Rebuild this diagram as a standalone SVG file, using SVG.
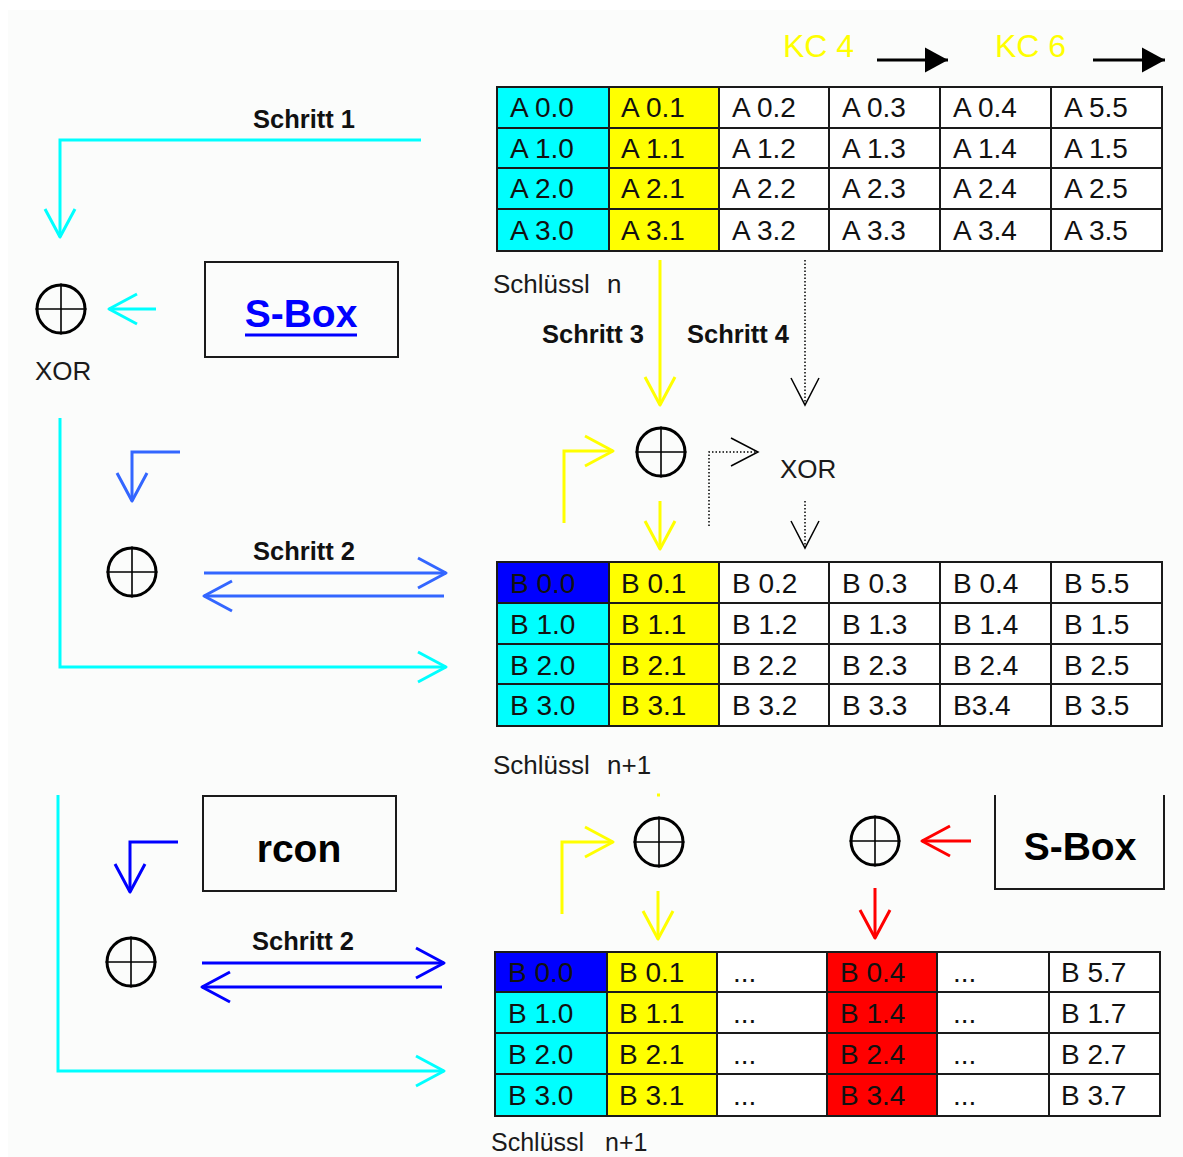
<svg xmlns="http://www.w3.org/2000/svg" width="1183" height="1157" viewBox="0 0 1183 1157">
  <style>
    .lbl { font-family: "Liberation Sans", Arial, sans-serif; fill: #1a1a1a; }
    .step { font-family: "Liberation Sans", Arial, sans-serif; font-weight: bold; font-size: 25.5px; fill: #111; }
    .big { font-family: "Liberation Sans", Arial, sans-serif; font-weight: bold; font-size: 39px; text-anchor: middle; }
    .cell text { font-family: "Liberation Sans", Arial, sans-serif; font-size: 28px; fill: #111; }
    .cell rect { stroke: #1a1a1a; stroke-width: 2; }
    .c { fill: #00ffff; }
    .y { fill: #ffff00; }
    .b { fill: #0000ff; }
    .r { fill: #ff0000; }
    .w { fill: #ffffff; }
    .box { fill: none; stroke: #1a1a1a; stroke-width: 2; }
    .ln { fill: none; stroke-width: 3; }
    .cyan { stroke: #00ffff; }
    .yel { stroke: #ffff00; }
    .blu1 { stroke: #3366ff; }
    .blu2 { stroke: #0000ff; }
    .red { stroke: #ff0000; }
    .dot { fill: none; stroke: #000; stroke-width: 1.5; stroke-dasharray: 1.5 2; }
  </style>
  <defs>
    <marker id="hCyan" markerUnits="userSpaceOnUse" viewBox="-31 -18 34 36" markerWidth="34" markerHeight="36" refX="0" refY="0" orient="auto">
      <path d="M-28,-15 L0,0 L-28,15" fill="none" stroke="#00ffff" stroke-width="3" stroke-linejoin="round"/>
    </marker>
    <marker id="hYel" markerUnits="userSpaceOnUse" viewBox="-31 -18 34 36" markerWidth="34" markerHeight="36" refX="0" refY="0" orient="auto">
      <path d="M-28,-15 L0,0 L-28,15" fill="none" stroke="#ffff00" stroke-width="3" stroke-linejoin="round"/>
    </marker>
    <marker id="hBlu1" markerUnits="userSpaceOnUse" viewBox="-31 -18 34 36" markerWidth="34" markerHeight="36" refX="0" refY="0" orient="auto">
      <path d="M-28,-15 L0,0 L-28,15" fill="none" stroke="#3366ff" stroke-width="3" stroke-linejoin="round"/>
    </marker>
    <marker id="hBlu2" markerUnits="userSpaceOnUse" viewBox="-31 -18 34 36" markerWidth="34" markerHeight="36" refX="0" refY="0" orient="auto">
      <path d="M-28,-15 L0,0 L-28,15" fill="none" stroke="#0000ff" stroke-width="3" stroke-linejoin="round"/>
    </marker>
    <marker id="hRed" markerUnits="userSpaceOnUse" viewBox="-31 -18 34 36" markerWidth="34" markerHeight="36" refX="0" refY="0" orient="auto">
      <path d="M-28,-15 L0,0 L-28,15" fill="none" stroke="#ff0000" stroke-width="3" stroke-linejoin="round"/>
    </marker>
    <marker id="hThin" markerUnits="userSpaceOnUse" viewBox="-31 -18 34 36" markerWidth="34" markerHeight="36" refX="0" refY="0" orient="auto">
      <path d="M-27,-14 L0,0 L-27,14" fill="none" stroke="#000" stroke-width="1.5"/>
    </marker>
    <marker id="hFill" markerUnits="userSpaceOnUse" viewBox="-24 -13 25 26" markerWidth="25" markerHeight="26" refX="0" refY="0" orient="auto">
      <path d="M-23,-12.5 L0,0 L-23,12.5 Z" fill="#000"/>
    </marker>
    <!-- XOR operator: circle with a cross -->
    <g id="xorSym">
      <circle cx="0" cy="0" r="24" fill="none" stroke="#000" stroke-width="3"/>
      <path d="M-25.5,0 H25.5 M0,-25.5 V25.5" fill="none" stroke="#000" stroke-width="1.6"/>
    </g>
  </defs>

  <!-- page -->
  <rect width="1183" height="1157" fill="#ffffff"/>
  <rect x="8" y="10" width="1175" height="1147" fill="#fbfcfb"/>

  <!-- connectors -->
  <g id="connectors">
    <polyline class="ln cyan" points="421,140 60,140 60,237" marker-end="url(#hCyan)"/>
    <line class="ln cyan" x1="156" y1="309" x2="109" y2="309" marker-end="url(#hCyan)"/>
    <polyline class="ln cyan" points="60,418 60,667 446,667" marker-end="url(#hCyan)"/>
    <polyline class="ln blu1" points="180,452 132,452 132,501" marker-end="url(#hBlu1)"/>
    <line class="ln blu1" x1="204" y1="573" x2="446" y2="573" marker-end="url(#hBlu1)"/>
    <line class="ln blu1" x1="444" y1="596" x2="204" y2="596" marker-end="url(#hBlu1)"/>

    <line class="ln yel" x1="660" y1="260" x2="660" y2="405" marker-end="url(#hYel)"/>
    <line class="dot" x1="805" y1="260" x2="805" y2="405" marker-end="url(#hThin)"/>
    <polyline class="ln yel" points="564,523 564,451 613,451" marker-end="url(#hYel)"/>
    <polyline class="dot" points="709,526 709,452 758,452" marker-end="url(#hThin)"/>
    <line class="ln yel" x1="660" y1="501" x2="660" y2="549" marker-end="url(#hYel)"/>
    <line class="dot" x1="805" y1="501" x2="805" y2="548" marker-end="url(#hThin)"/>

    <polyline class="ln cyan" points="58,795 58,1071 444,1071" marker-end="url(#hCyan)"/>
    <polyline class="ln blu2" points="178,842 130,842 130,892" marker-end="url(#hBlu2)"/>
    <line class="ln blu2" x1="202" y1="963" x2="444" y2="963" marker-end="url(#hBlu2)"/>
    <line class="ln blu2" x1="442" y1="987" x2="202" y2="987" marker-end="url(#hBlu2)"/>
    <line class="ln yel" x1="657" y1="795" x2="660" y2="795"/>
    <polyline class="ln yel" points="562,914 562,842 613,842" marker-end="url(#hYel)"/>
    <line class="ln yel" x1="658" y1="891" x2="658" y2="939" marker-end="url(#hYel)"/>
    <line class="ln red" x1="971" y1="841" x2="922" y2="841" marker-end="url(#hRed)"/>
    <line class="ln red" x1="875" y1="888" x2="875" y2="938" marker-end="url(#hRed)"/>

    <line x1="877" y1="60" x2="948" y2="60" stroke="#000" stroke-width="3" marker-end="url(#hFill)"/>
    <line x1="1093" y1="60" x2="1165" y2="60" stroke="#000" stroke-width="3" marker-end="url(#hFill)"/>
  </g>

  <!-- step labels -->
  <g id="labels">
    <text class="step" x="253" y="128">Schritt 1</text>
    <text class="step" x="253" y="560">Schritt 2</text>
    <text class="step" x="542" y="343">Schritt 3</text>
    <text class="step" x="687" y="343">Schritt 4</text>
    <text class="step" x="252" y="950">Schritt 2</text>
    <text class="lbl" x="35" y="380" font-size="26">XOR</text>
    <text class="lbl" x="780" y="478" font-size="26">XOR</text>
    <text x="783" y="57" font-family="Liberation Sans, Arial, sans-serif" font-size="32" fill="#ffff00">KC 4</text>
    <text x="995" y="57" font-family="Liberation Sans, Arial, sans-serif" font-size="32" fill="#ffff00">KC 6</text>
    <text class="lbl" x="493" y="293" font-size="26">Schlüssl<tspan x="607">n</tspan></text>
    <text class="lbl" x="493" y="774" font-size="26">Schlüssl<tspan x="607">n+1</tspan></text>
    <text class="lbl" x="491" y="1151" font-size="25">Schlüssl<tspan x="605">n+1</tspan></text>
  </g>

  <!-- XOR operators -->
  <g id="xor1"><use href="#xorSym" x="61" y="309"/></g>
  <g id="xor2"><use href="#xorSym" x="132" y="572"/></g>
  <g id="xor3"><use href="#xorSym" x="661" y="452"/></g>
  <g id="xor4"><use href="#xorSym" x="131" y="962"/></g>
  <g id="xor5"><use href="#xorSym" x="659" y="842"/></g>
  <g id="xor6"><use href="#xorSym" x="875" y="841"/></g>

  <!-- boxes -->
  <g id="sbox-top">
    <rect class="box" x="205" y="262" width="193" height="95"/>
    <text class="big" x="301" y="327" fill="#0000ff">S-Box</text>
    <line x1="245" y1="335" x2="357" y2="335" stroke="#0000ff" stroke-width="3"/>
  </g>
  <g id="rcon">
    <rect class="box" x="203" y="796" width="193" height="95"/>
    <text class="big" x="299" y="862" fill="#000">rcon</text>
  </g>
  <g id="sbox-bottom">
    <polyline class="box" points="995,795 995,889 1164,889 1164,795"/>
    <text class="big" x="1080" y="860" fill="#000">S-Box</text>
  </g>

  <!-- key n -->
  <g id="key-n" class="cell">
    <rect class="c" x="497" y="87" width="112" height="41"/><text x="510" y="117">A 0.0</text>
    <rect class="y" x="609" y="87" width="110" height="41"/><text x="621" y="117">A 0.1</text>
    <rect class="w" x="719" y="87" width="110" height="41"/><text x="732" y="117">A 0.2</text>
    <rect class="w" x="829" y="87" width="111" height="41"/><text x="842" y="117">A 0.3</text>
    <rect class="w" x="940" y="87" width="111" height="41"/><text x="953" y="117">A 0.4</text>
    <rect class="w" x="1051" y="87" width="111" height="41"/><text x="1064" y="117">A 5.5</text>

    <rect class="c" x="497" y="128" width="112" height="40"/><text x="510" y="158">A 1.0</text>
    <rect class="y" x="609" y="128" width="110" height="40"/><text x="621" y="158">A 1.1</text>
    <rect class="w" x="719" y="128" width="110" height="40"/><text x="732" y="158">A 1.2</text>
    <rect class="w" x="829" y="128" width="111" height="40"/><text x="842" y="158">A 1.3</text>
    <rect class="w" x="940" y="128" width="111" height="40"/><text x="953" y="158">A 1.4</text>
    <rect class="w" x="1051" y="128" width="111" height="40"/><text x="1064" y="158">A 1.5</text>

    <rect class="c" x="497" y="168" width="112" height="41"/><text x="510" y="198">A 2.0</text>
    <rect class="y" x="609" y="168" width="110" height="41"/><text x="621" y="198">A 2.1</text>
    <rect class="w" x="719" y="168" width="110" height="41"/><text x="732" y="198">A 2.2</text>
    <rect class="w" x="829" y="168" width="111" height="41"/><text x="842" y="198">A 2.3</text>
    <rect class="w" x="940" y="168" width="111" height="41"/><text x="953" y="198">A 2.4</text>
    <rect class="w" x="1051" y="168" width="111" height="41"/><text x="1064" y="198">A 2.5</text>

    <rect class="c" x="497" y="209" width="112" height="42"/><text x="510" y="240">A 3.0</text>
    <rect class="y" x="609" y="209" width="110" height="42"/><text x="621" y="240">A 3.1</text>
    <rect class="w" x="719" y="209" width="110" height="42"/><text x="732" y="240">A 3.2</text>
    <rect class="w" x="829" y="209" width="111" height="42"/><text x="842" y="240">A 3.3</text>
    <rect class="w" x="940" y="209" width="111" height="42"/><text x="953" y="240">A 3.4</text>
    <rect class="w" x="1051" y="209" width="111" height="42"/><text x="1064" y="240">A 3.5</text>
  </g>

  <!-- key n+1 -->
  <g id="key-n1" class="cell">
    <rect class="b" x="497" y="562" width="112" height="41"/><text x="510" y="593">B 0.0</text>
    <rect class="y" x="609" y="562" width="110" height="41"/><text x="621" y="593">B 0.1</text>
    <rect class="w" x="719" y="562" width="110" height="41"/><text x="732" y="593">B 0.2</text>
    <rect class="w" x="829" y="562" width="111" height="41"/><text x="842" y="593">B 0.3</text>
    <rect class="w" x="940" y="562" width="111" height="41"/><text x="953" y="593">B 0.4</text>
    <rect class="w" x="1051" y="562" width="111" height="41"/><text x="1064" y="593">B 5.5</text>

    <rect class="c" x="497" y="603" width="112" height="41"/><text x="510" y="634">B 1.0</text>
    <rect class="y" x="609" y="603" width="110" height="41"/><text x="621" y="634">B 1.1</text>
    <rect class="w" x="719" y="603" width="110" height="41"/><text x="732" y="634">B 1.2</text>
    <rect class="w" x="829" y="603" width="111" height="41"/><text x="842" y="634">B 1.3</text>
    <rect class="w" x="940" y="603" width="111" height="41"/><text x="953" y="634">B 1.4</text>
    <rect class="w" x="1051" y="603" width="111" height="41"/><text x="1064" y="634">B 1.5</text>

    <rect class="c" x="497" y="644" width="112" height="40"/><text x="510" y="675">B 2.0</text>
    <rect class="y" x="609" y="644" width="110" height="40"/><text x="621" y="675">B 2.1</text>
    <rect class="w" x="719" y="644" width="110" height="40"/><text x="732" y="675">B 2.2</text>
    <rect class="w" x="829" y="644" width="111" height="40"/><text x="842" y="675">B 2.3</text>
    <rect class="w" x="940" y="644" width="111" height="40"/><text x="953" y="675">B 2.4</text>
    <rect class="w" x="1051" y="644" width="111" height="40"/><text x="1064" y="675">B 2.5</text>

    <rect class="c" x="497" y="684" width="112" height="42"/><text x="510" y="715">B 3.0</text>
    <rect class="y" x="609" y="684" width="110" height="42"/><text x="621" y="715">B 3.1</text>
    <rect class="w" x="719" y="684" width="110" height="42"/><text x="732" y="715">B 3.2</text>
    <rect class="w" x="829" y="684" width="111" height="42"/><text x="842" y="715">B 3.3</text>
    <rect class="w" x="940" y="684" width="111" height="42"/><text x="953" y="715">B3.4</text>
    <rect class="w" x="1051" y="684" width="111" height="42"/><text x="1064" y="715">B 3.5</text>
  </g>

  <!-- key n+1, extended -->
  <g id="key-n1-ext" class="cell">
    <rect class="b" x="495" y="952" width="112" height="40"/><text x="508" y="982">B 0.0</text>
    <rect class="y" x="607" y="952" width="110" height="40"/><text x="619" y="982">B 0.1</text>
    <rect class="w" x="717" y="952" width="110" height="40"/><text x="733" y="982">...</text>
    <rect class="r" x="827" y="952" width="110" height="40"/><text x="840" y="982">B 0.4</text>
    <rect class="w" x="937" y="952" width="112" height="40"/><text x="953" y="982">...</text>
    <rect class="w" x="1049" y="952" width="111" height="40"/><text x="1061" y="982">B 5.7</text>

    <rect class="c" x="495" y="992" width="112" height="41"/><text x="508" y="1023">B 1.0</text>
    <rect class="y" x="607" y="992" width="110" height="41"/><text x="619" y="1023">B 1.1</text>
    <rect class="w" x="717" y="992" width="110" height="41"/><text x="733" y="1023">...</text>
    <rect class="r" x="827" y="992" width="110" height="41"/><text x="840" y="1023">B 1.4</text>
    <rect class="w" x="937" y="992" width="112" height="41"/><text x="953" y="1023">...</text>
    <rect class="w" x="1049" y="992" width="111" height="41"/><text x="1061" y="1023">B 1.7</text>

    <rect class="c" x="495" y="1033" width="112" height="41"/><text x="508" y="1064">B 2.0</text>
    <rect class="y" x="607" y="1033" width="110" height="41"/><text x="619" y="1064">B 2.1</text>
    <rect class="w" x="717" y="1033" width="110" height="41"/><text x="733" y="1064">...</text>
    <rect class="r" x="827" y="1033" width="110" height="41"/><text x="840" y="1064">B 2.4</text>
    <rect class="w" x="937" y="1033" width="112" height="41"/><text x="953" y="1064">...</text>
    <rect class="w" x="1049" y="1033" width="111" height="41"/><text x="1061" y="1064">B 2.7</text>

    <rect class="c" x="495" y="1074" width="112" height="42"/><text x="508" y="1105">B 3.0</text>
    <rect class="y" x="607" y="1074" width="110" height="42"/><text x="619" y="1105">B 3.1</text>
    <rect class="w" x="717" y="1074" width="110" height="42"/><text x="733" y="1105">...</text>
    <rect class="r" x="827" y="1074" width="110" height="42"/><text x="840" y="1105">B 3.4</text>
    <rect class="w" x="937" y="1074" width="112" height="42"/><text x="953" y="1105">...</text>
    <rect class="w" x="1049" y="1074" width="111" height="42"/><text x="1061" y="1105">B 3.7</text>
  </g>
</svg>
